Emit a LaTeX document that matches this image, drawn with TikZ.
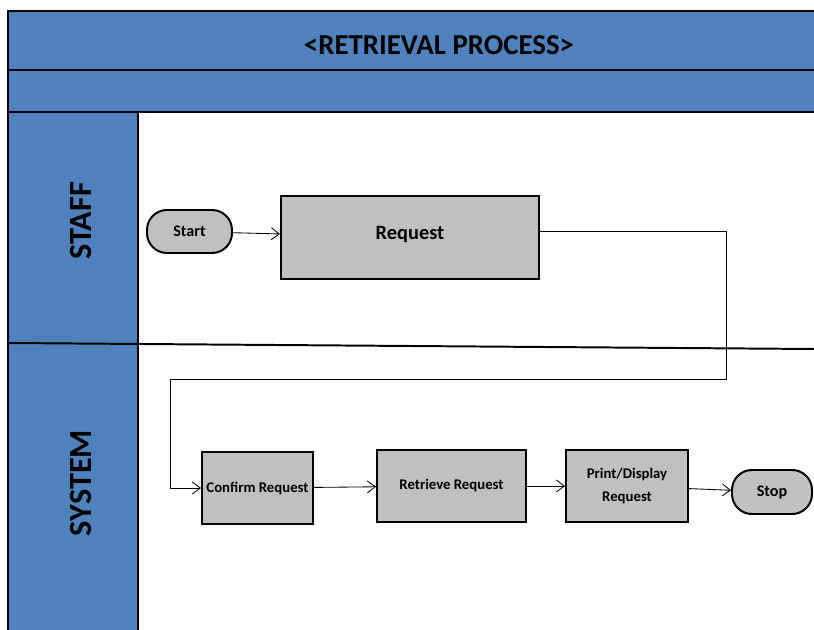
\documentclass[tikz,border=0pt]{standalone}
\usepackage{fontspec}
\setmainfont{Carlito}
\usetikzlibrary{arrows.meta}

\definecolor{laneblue}{RGB}{79,129,189}
\definecolor{boxgray}{RGB}{192,192,192}

\tikzset{
  procbox/.style={draw, line width=1.4pt, fill=boxgray, align=center, inner sep=1pt,
    font=\bfseries\fontsize{10.5}{14.5}\selectfont},
  termbox/.style={draw, line width=1.4pt, fill=boxgray, rounded corners=0.5cm,
    font=\bfseries\fontsize{11.5}{13}\selectfont},
  lanelabel/.style={rotate=90, font=\bfseries\fontsize{23}{26}\selectfont},
  flow/.style={-{Straight Barb[length=2mm,width=3mm]}, line width=0.6pt}
}

\begin{document}
\begin{tikzpicture}[x=0.025cm, y=-0.025cm]
  \useasboundingbox (0,0) rectangle (814,630);

  % Header bands and lane column
  \fill[laneblue] (8,11) rectangle (814,112);
  \fill[laneblue] (8,112) rectangle (138,630);
  \draw[line width=1.4pt] (814,11) -- (8,11) -- (8,630);
  \draw[line width=1.4pt] (8,70) -- (814,70);
  \draw[line width=1.4pt] (8,112) -- (814,112);
  \draw[line width=1.4pt] (138,112) -- (138,630);
  \draw[line width=1.4pt] (8,343) -- (814,349); % lane divider

  % Title and lane names
  \node[font=\bfseries\fontsize{20.5}{23}\selectfont] (title) at (439,45) {<RETRIEVAL PROCESS>};
  \node[lanelabel] (staff) at (81,221) {STAFF};
  \node[lanelabel] (system) at (81,483) {SYSTEM};

  % Staff lane
  \node[termbox, minimum width=2.125cm, minimum height=1.075cm] (start) at (189.5,231.5) {Start};
  \node[procbox, minimum width=6.45cm, minimum height=2.075cm,
    font=\bfseries\fontsize{14.5}{16}\selectfont] (request) at (410,237.5) {\raisebox{6pt}{Request}};

  % System lane
  \node[procbox, minimum width=2.775cm, minimum height=1.8cm] (confirm) at (257.5,488) {Confirm Request};
  \node[procbox, minimum width=3.725cm, minimum height=1.8cm] (retrieve) at (451.5,486) {\raisebox{2pt}{Retrieve Request}};
  \node[procbox, minimum width=3.05cm, minimum height=1.8cm] (print) at (627,486) {\raisebox{2pt}{Print/Display}\\Request};
  \node[termbox, minimum width=2cm, minimum height=1.1cm] (stop) at (772,492) {Stop};

  % Connectors
  \coordinate (dropR) at (726,379);
  \coordinate (dropL) at (170,379);
  \draw[flow] (start) -- (request);
  \draw[flow] (request.east) ++(0,-6) -| (dropR) -- (dropL) |- (confirm.west);
  \draw[flow] (confirm) -- (retrieve);
  \draw[flow] (retrieve) -- (print);
  \draw[flow] (print) -- (stop);
\end{tikzpicture}
\end{document}
